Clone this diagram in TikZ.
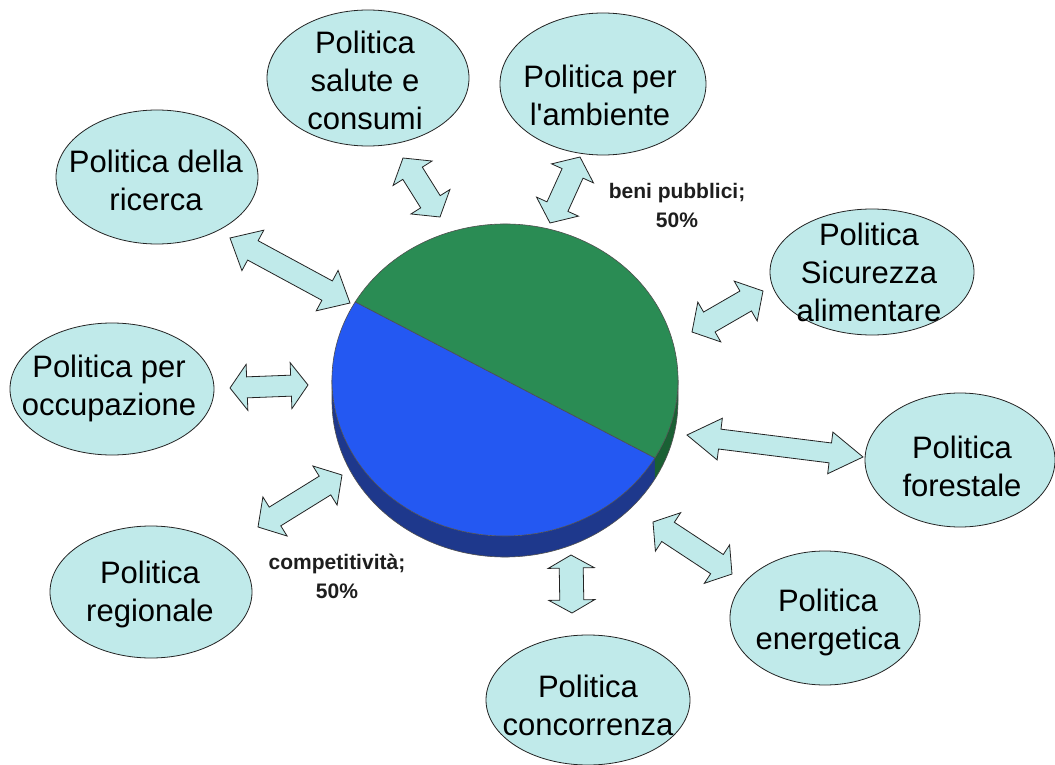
\documentclass[tikz,border=0pt]{standalone}
\usepackage{fontspec}
\setmainfont{Liberation Sans}
\usetikzlibrary{calc,shapes.geometric}
\definecolor{bub}{RGB}{192,234,234}
\definecolor{pgreen}{RGB}{42,140,84}
\definecolor{pgreend}{RGB}{26,96,52}
\definecolor{pblue}{RGB}{36,88,242}
\definecolor{pblued}{RGB}{30,56,140}
\definecolor{edge}{RGB}{35,35,35}
\definecolor{lbl}{RGB}{30,30,30}
\tikzset{
  bubble/.style={ellipse, draw=edge, line width=0.8pt, fill=bub, inner sep=0pt},
  btext/.style={align=center, font=\fontsize{31}{38}\selectfont, inner sep=0pt},
  pielabel/.style={align=center, font=\fontsize{21}{29}\selectfont\bfseries, text=lbl, inner sep=0pt},
  arrowbox/.style={fill=bub, draw=edge, line width=0.8pt, line join=miter},
  pieface/.style={draw=edge!80, line width=0.6pt}
}
% start, end, head length, head half width, shaft half width
\newcommand\dblarr[5]{%
  \draw[arrowbox] (#1)
    -- ($(#1)!#3!(#2)!#4!90:(#2)$)
    -- ($(#1)!#3!(#2)!#5!90:(#2)$)
    -- ($(#2)!#3!(#1)!#5!-90:(#1)$)
    -- ($(#2)!#3!(#1)!#4!-90:(#1)$)
    -- (#2)
    -- ($(#2)!#3!(#1)!#4!90:(#1)$)
    -- ($(#2)!#3!(#1)!#5!90:(#1)$)
    -- ($(#1)!#3!(#2)!#5!-90:(#2)$)
    -- ($(#1)!#3!(#2)!#4!-90:(#2)$)
    -- cycle;}
\begin{document}
\begin{tikzpicture}[x=1pt,y=-1pt]
\useasboundingbox (0,0) rectangle (1055,765);
\fill[white] (0,0) rectangle (1055,765);

% bubbles
\node[bubble, minimum width=202pt, minimum height=134pt] (ric) at (157,177) {};
\node[bubble, minimum width=202pt, minimum height=136pt] (sal) at (368,78) {};
\node[bubble, minimum width=206pt, minimum height=142pt] (amb) at (603,84) {};
\node[bubble, minimum width=204pt, minimum height=126pt] (sic) at (872,272) {};
\node[bubble, minimum width=204pt, minimum height=132pt] (occ) at (112,389) {};
\node[bubble, minimum width=190pt, minimum height=134pt] (for) at (960,460) {};
\node[bubble, minimum width=202pt, minimum height=132pt] (reg) at (151,592) {};
\node[bubble, minimum width=190pt, minimum height=134pt] (ene) at (825,618) {};
\node[bubble, minimum width=204pt, minimum height=130pt] (con) at (588,700) {};

\node[btext] (tric) at (156,180) {Politica della\\ricerca};
\node[btext] (tsal) at (365,80) {Politica\\salute e\\consumi};
\node[btext] (tamb) at (600,95) {Politica per\\l\textquotesingle ambiente};
\node[btext] (tsic) at (869,272) {Politica\\Sicurezza\\alimentare};
\node[btext] (tocc) at (109,388) {Politica per\\occupazione};
\node[btext] (tfor) at (962,466) {Politica\\forestale};
\node[btext] (treg) at (150,594) {Politica\\regionale};
\node[btext] (tene) at (828,622) {Politica\\energetica};
\node[btext] (tcon) at (588,705) {Politica\\concorrenza};

% arrow end points
\coordinate (a1s) at (230,238); \coordinate (a1e) at (350,303);
\coordinate (a2s) at (403,158); \coordinate (a2e) at (440,217);
\coordinate (a3s) at (580,157); \coordinate (a3e) at (550,223);
\coordinate (a4s) at (692,332); \coordinate (a4e) at (763,291);
\coordinate (a5s) at (230,388); \coordinate (a5e) at (308,385);
\coordinate (a6s) at (687,435); \coordinate (a6e) at (863,457);
\coordinate (a7s) at (258,527); \coordinate (a7e) at (342,475);
\coordinate (a8s) at (653,522); \coordinate (a8e) at (732,574);
\coordinate (a9s) at (571,555); \coordinate (a9e) at (572,613);

\dblarr{a1s}{a1e}{26pt}{23pt}{11pt}
\dblarr{a2s}{a2e}{18pt}{23pt}{11.5pt}
\dblarr{a3s}{a3e}{18pt}{23pt}{11.5pt}
\dblarr{a4s}{a4e}{20pt}{23pt}{11.5pt}
\dblarr{a5s}{a5e}{17pt}{23pt}{10.5pt}
\dblarr{a6s}{a6e}{33pt}{21pt}{10pt}
\dblarr{a7s}{a7e}{20pt}{23pt}{11pt}
\dblarr{a8s}{a8e}{18pt}{23pt}{11.5pt}
\dblarr{a9s}{a9e}{13pt}{23pt}{12pt}

% pie
\coordinate (pc) at (505,380);
\coordinate (pb) at (505,401);
\fill[pblued] ($(pc)+(180:173pt and 156pt)$) arc[start angle=180,end angle=330,x radius=173pt,y radius=156pt]
   -- ($(pb)+(330:173pt and 156pt)$) arc[start angle=330,end angle=180,x radius=173pt,y radius=156pt] -- cycle;
\fill[pgreend] ($(pc)+(330:173pt and 156pt)$) arc[start angle=330,end angle=360,x radius=173pt,y radius=156pt]
   -- ($(pb)+(0:173pt and 156pt)$) arc[start angle=360,end angle=330,x radius=173pt,y radius=156pt] -- cycle;
\draw[pieface] ($(pc)+(180:173pt and 156pt)$) -- ($(pb)+(180:173pt and 156pt)$)
   arc[start angle=180,end angle=360,x radius=173pt,y radius=156pt] -- ($(pc)+(0:173pt and 156pt)$);
\filldraw[pieface, fill=pgreen] (pc) -- ($(pc)+(-30:173pt and 156pt)$)
   arc[start angle=-30,end angle=150,x radius=173pt,y radius=156pt] -- cycle;
\filldraw[pieface, fill=pblue] (pc) -- ($(pc)+(150:173pt and 156pt)$)
   arc[start angle=150,end angle=330,x radius=173pt,y radius=156pt] -- cycle;

% labels
\node[pielabel] (lbp) at (677,205) {beni pubblici;\\50\%};
\node[pielabel] (lcp) at (337,576) {competitività;\\50\%};
\end{tikzpicture}
\end{document}
